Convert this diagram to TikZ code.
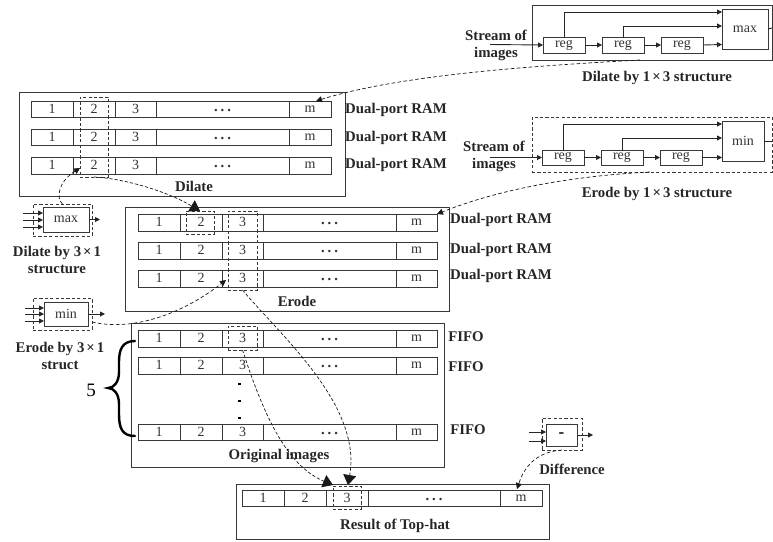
\documentclass[tikz,border=0pt]{standalone}
\usepackage{fontspec}
\setmainfont{Liberation Serif}
\usetikzlibrary{arrows.meta,calc}
\definecolor{ink}{gray}{0.22}
\tikzset{
  pbox/.style={draw=ink,line width=1pt,inner sep=0pt,outer sep=0pt,align=center},
  cell/.style={pbox,line width=0.9pt,font=\fontsize{14}{15}\selectfont,text=black!80},
  regbox/.style={pbox,font=\fontsize{14}{15}\selectfont,text=black!80},
  dbox/.style={draw=ink,line width=0.8pt,dash pattern=on 3.2pt off 2.2pt,inner sep=0pt,outer sep=0pt},
  lab/.style={font=\fontsize{14.8}{17}\bfseries\selectfont,inner sep=0pt,align=center,text=black!85},
  sig/.style={draw=black!85,line width=0.9pt,-{Triangle[length=5pt,width=5pt]}},
  link/.style={draw=black!90,line width=0.7pt,dash pattern=on 3.6pt off 2.4pt,-{Triangle[length=6pt,width=6pt]}},
  biglink/.style={draw=black!90,line width=0.7pt,dash pattern=on 3.2pt off 2pt,-{Triangle[length=10pt,width=13pt]}}
}
\newcommand{\tms}{\kern2pt×\kern2pt}
% \bx{name}{x1}{y1}{x2}{y2}{style}{text}
\newcommand{\bx}[7]{\node[#6,minimum width={(#4-#2)*1pt},minimum height={(#5-#3)*1pt}] (#1) at ({(#2+#4)/2},{(#3+#5)/2}) {#7};}
% \memrow{name}{y1}{y2}{x0}{x1}{x2}{x3}{x4}{x5}
\newcommand{\memrow}[9]{%
  \bx{#1-a}{#4}{#2}{#5}{#3}{cell}{\raisebox{0.5pt}{1}}
  \bx{#1-b}{#5}{#2}{#6}{#3}{cell}{\raisebox{0.5pt}{2}}
  \bx{#1-c}{#6}{#2}{#7}{#3}{cell}{\raisebox{0.5pt}{3}}
  \bx{#1-d}{#7}{#2}{#8}{#3}{cell}{\raisebox{-4pt}[0pt][0pt]{\fontsize{9}{9}\selectfont\bfseries •\kern3.5pt•\kern3.5pt•}}
  \bx{#1-m}{#8}{#2}{#9}{#3}{cell}{m}
}
\begin{document}
\begin{tikzpicture}[x=1pt,y=-1pt]
\useasboundingbox (0,0) rectangle (773,541);
% frames
\bx{dilframe}{19}{92}{345}{196}{pbox}{}
\bx{eroframe}{125}{207}{449}{311}{pbox}{}
\bx{oriframe}{131}{323}{444}{467}{pbox}{}
\bx{resframe}{236}{484}{549}{539}{pbox}{}
% dilate rows
\memrow{da}{101}{117}{31}{73}{115}{156}{289}{331}
\memrow{db}{129}{145}{31}{73}{115}{156}{289}{331}
\memrow{dc}{157}{174}{31}{73}{115}{156}{289}{331}
% erode rows
\memrow{ea}{214}{231}{138}{180}{222}{263}{396}{437}
\memrow{eb}{242}{259}{138}{180}{222}{263}{396}{437}
\memrow{ec}{270}{287}{138}{180}{222}{263}{396}{437}
% original rows
\memrow{oa}{330}{347}{138}{180}{222}{263}{396}{437}
\memrow{ob}{357}{374}{138}{180}{222}{263}{396}{437}
\memrow{oc}{424}{440}{138}{180}{222}{263}{396}{437}
% result row
\memrow{ra}{490}{506}{242}{284}{326}{368}{500}{542}
% dashed selections
\bx{dcol}{80}{97}{108}{177}{dbox}{}
\bx{etwo}{186}{211}{214}{234}{dbox}{}
\bx{ecol}{228}{211}{257}{290}{dbox}{}
\bx{ocol}{228}{326}{257}{350}{dbox}{}
\bx{rcol}{333}{486}{361}{509}{dbox}{}
% dots
\foreach \n/\y in {p/384,q/401,r/418}{\node[fill=black,minimum size=2.8pt,inner sep=0pt] (dot\n) at (239.5,\y) {};}
% frame labels
\node[lab] (dillab) at (194,186) {Dilate};
\node[lab] (erolab) at (297,301) {Erode};
\node[lab] (orilab) at (279,456) {Original images};
\node[lab] (reslab) at (395,526) {Result of Top-hat};
\node[lab] (ram1) at (396,110) {Dual-port RAM};
\node[lab] (ram2) at (396,138) {Dual-port RAM};
\node[lab] (ram3) at (396,165) {Dual-port RAM};
\node[lab] (ram4) at (501,220) {Dual-port RAM};
\node[lab] (ram5) at (501,250) {Dual-port RAM};
\node[lab] (ram6) at (501,276) {Dual-port RAM};
\node[lab] (fifo1) at (466,337) {FIFO};
\node[lab] (fifo2) at (466,367) {FIFO};
\node[lab] (fifo3) at (468,430) {FIFO};
% brace
\node[font=\fontsize{19}{21}\selectfont,inner sep=0pt] (five) at (91,390) {5};
\coordinate (brtop) at (135,341);
\coordinate (brbot) at (135,436);
\coordinate (brtip) at (108,388);
\draw[line width=2.4pt,line cap=round,draw=black]
  (brtop) .. controls (122,341) and (119,350) .. (119,362)
  -- (119,372) .. controls (119,382) and (114,388) .. (brtip)
  .. controls (114,388) and (119,394) .. (119,404)
  -- (119,414) .. controls (119,428) and (122,436) .. (brbot);
% top-right dilate structure
\bx{dsframe}{532}{5}{772}{60}{pbox}{}
\bx{dreg1}{543}{37}{585}{53}{regbox}{reg}
\bx{dreg2}{602}{37}{644}{53}{regbox}{reg}
\bx{dreg3}{661}{37}{703}{53}{regbox}{reg}
\bx{dmax}{722}{9}{768}{49}{regbox}{max}
\node[lab] (dstream) at (496,45.5) {Stream of\\images};
\coordinate (dsin) at (490,44.5);
\coordinate (dmi1) at (722,12);
\coordinate (dmi2) at (722,26);
\coordinate (dmi3) at (722,44.5);
\coordinate (dout) at (772,28);
\draw[sig] (dsin) -- (dreg1.west);
\draw[sig] (dreg1.east) -- (dreg2.west);
\draw[sig] (dreg2.east) -- (dreg3.west);
\draw[sig] (dreg3.east) -- (dmi3);
\draw[sig] (dreg1.north) |- (dmi1);
\draw[sig] (dreg2.north) |- (dmi2);
\draw[draw=black!85,line width=0.9pt] (dmax.east) -- (dout);
\node[lab] (dslab) at (657,78) {Dilate by 1\tms3 structure};
% right erode structure
\bx{esframe}{532}{117}{772}{172}{dbox}{}
\bx{ereg1}{542}{150}{584}{165}{regbox}{reg}
\bx{ereg2}{601}{150}{643}{165}{regbox}{reg}
\bx{ereg3}{660}{150}{702}{165}{regbox}{reg}
\bx{emin}{722}{121}{764}{161}{regbox}{min}
\node[lab] (estream) at (494,156) {Stream of\\images};
\coordinate (esin) at (490,157.5);
\coordinate (emi1) at (722,124);
\coordinate (emi2) at (722,138);
\coordinate (emi3) at (722,157.5);
\coordinate (eout) at (772,141);
\draw[sig] (esin) -- (ereg1.west);
\draw[sig] (ereg1.east) -- (ereg2.west);
\draw[sig] (ereg2.east) -- (ereg3.west);
\draw[sig] (ereg3.east) -- (emi3);
\draw[sig] (ereg1.north) |- (emi1);
\draw[sig] (ereg2.north) |- (emi2);
\draw[draw=black!85,line width=0.9pt] (emin.east) -- (eout);
\node[lab] (eslab) at (657,194) {Erode by 1\tms3 structure};
% small max
\bx{maxout}{33}{204}{92}{236}{dbox}{}
\bx{maxbox}{43}{207}{89}{232}{regbox}{max}
\foreach \n/\y in {a/213,b/220,c/227}{
  \coordinate (mxs\n) at (23,\y); \coordinate (mxe\n) at (43,\y);
  \draw[sig] (mxs\n) -- (mxe\n);}
\coordinate (mxo) at (100,219.5);
\draw[sig] (maxbox.east) -- (mxo);
\node[lab] (mxlab) at (57,260) {Dilate by 3\tms1\\structure};
% small min
\bx{minout}{33}{298}{92}{330}{dbox}{}
\bx{minbox}{44}{302}{88}{326}{regbox}{min}
\foreach \n/\y in {a/308,b/314,c/321}{
  \coordinate (mns\n) at (25,\y); \coordinate (mne\n) at (44,\y);
  \draw[sig] (mns\n) -- (mne\n);}
\coordinate (mno) at (105,314);
\draw[sig] (minbox.east) -- (mno);
\node[lab] (mnlab) at (60,355.5) {Erode by 3\tms1\\struct};
% difference
\bx{difout}{542}{418}{582}{450}{dbox}{}
\bx{difbox}{546}{424}{577}{446}{pbox,font=\fontsize{17}{17}\bfseries\selectfont}{-}
\foreach \n/\y in {a/432,b/441}{
  \coordinate (dfs\n) at (529,\y); \coordinate (dfe\n) at (546,\y);
  \draw[sig] (dfs\n) -- (dfe\n);}
\coordinate (dfo) at (593,435);
\draw[sig] (difbox.east) -- (dfo);
\node[lab] (diflab) at (572,469) {Difference};
% dashed connectors
\coordinate (ds1) at (640,60);
\coordinate (dt1) at (316,101);
\draw[link] (ds1) .. controls (530,66) and (400,75) .. (dt1);
\coordinate (es1) at (650,172);
\draw[link] (es1) .. controls (590,175) and (510,185) .. (ea-m.north east);
\coordinate (mt1) at (80,168);
\draw[link] (maxout.north) .. controls (56,198) and (58,182) .. (mt1);
\coordinate (dt2) at (200,211);
\draw[biglink] (dcol.south) .. controls (120,178) and (165,190) .. (dt2);
\coordinate (mnt) at (226,280);
\coordinate (mns) at (92,322);
\draw[link] (mns) .. controls (135,332) and (185,312) .. (mnt);
\coordinate (rt1) at (348,485);
\draw[biglink] (ecol.south) .. controls (280,335) and (362,405) .. (rt1);
\coordinate (rt2) at (333,485);
\draw[biglink] (ocol.south) .. controls (262,410) and (285,465) .. (rt2);
\coordinate (rt3) at (517,489);
\draw[link] (difout.south) .. controls (535,452) and (524,468) .. (rt3);
\end{tikzpicture}
\end{document}
